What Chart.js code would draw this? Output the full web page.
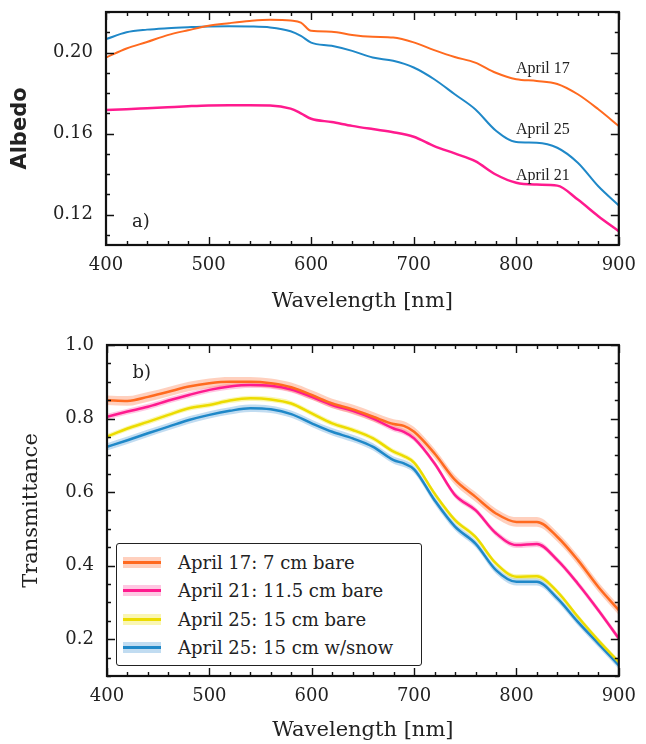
<!DOCTYPE html>
<html>
<head>
<meta charset="utf-8">
<script src="https://cdn.jsdelivr.net/npm/chart.js@4.4.1/dist/chart.umd.min.js"></script>
<style>
    html, body { margin: 0; padding: 0; background: #fff; }
    #wrap { position: relative; width: 646px; height: 744px; overflow: hidden; }
    #albedo-box { position: absolute; left: 0; top: 0; width: 646px; height: 320px; }
    #trans-box { position: absolute; left: 0; top: 320px; width: 646px; height: 424px; }
    #legend {
        position: absolute; left: 116px; top: 543px; width: 306px; height: 123px;
        box-sizing: border-box; border: 1.5px solid #222; border-radius: 3px; background: #fff;
        padding: 4px 0 0 6px; font-family: 'DejaVu Serif', serif; font-size: 18px; color: #222;
    }
    .row { display: flex; align-items: center; height: 28.5px; }
    .swatch { position: relative; width: 38px; height: 11px; margin-right: 17px; }
    .swatch span { position: absolute; left: 0; right: 0; top: 4px; height: 3px; }
</style>
</head>
<body>
<div id="wrap">
    <div id="albedo-box"><canvas id="albedoChart" width="646" height="320"></canvas></div>
    <div id="trans-box"><canvas id="transChart" width="646" height="424"></canvas></div>
    <div id="legend"></div>
</div>
<script>
// wavelengths (nm)
const WL_A = [400, 420, 440, 460, 480, 500, 520, 540, 560, 580, 590, 600, 620, 640, 660, 680, 700, 720, 740, 760, 780, 800, 820, 840, 860, 880, 900];
const WL_B = [400, 420, 440, 460, 480, 500, 520, 540, 560, 580, 600, 620, 640, 660, 680, 690, 700, 720, 740, 760, 780, 800, 820, 840, 860, 880, 900];

// panel a) albedo
const ALBEDO_APR17 = [0.1975, 0.2020, 0.2052, 0.2086, 0.2110, 0.2132, 0.2145, 0.2156, 0.2162, 0.2158, 0.2148, 0.2107, 0.2103, 0.2087, 0.2078, 0.2074, 0.2050, 0.2012, 0.1978, 0.1950, 0.1900, 0.1868, 0.1860, 0.1845, 0.1794, 0.1720, 0.1637];
const ALBEDO_APR25 = [0.2066, 0.2100, 0.2113, 0.2120, 0.2125, 0.2129, 0.2130, 0.2129, 0.2124, 0.2105, 0.2082, 0.2049, 0.2033, 0.2008, 0.1975, 0.1959, 0.1926, 0.1868, 0.1794, 0.1720, 0.1615, 0.1558, 0.1555, 0.1530, 0.1456, 0.1340, 0.1245];
const ALBEDO_APR21 = [0.1716, 0.1720, 0.1725, 0.1730, 0.1735, 0.1739, 0.1740, 0.1740, 0.1739, 0.1723, 0.1700, 0.1673, 0.1657, 0.1638, 0.1622, 0.1607, 0.1584, 0.1538, 0.1502, 0.1464, 0.1398, 0.1357, 0.1348, 0.1343, 0.1274, 0.1192, 0.1118];

// panel b) transmittance
const TRANS_APR17 = [0.850, 0.848, 0.859, 0.873, 0.887, 0.896, 0.900, 0.900, 0.896, 0.885, 0.864, 0.841, 0.825, 0.805, 0.785, 0.780, 0.764, 0.705, 0.633, 0.587, 0.542, 0.519, 0.519, 0.478, 0.415, 0.342, 0.279];
const TRANS_APR21 = [0.805, 0.819, 0.832, 0.849, 0.864, 0.878, 0.887, 0.891, 0.889, 0.879, 0.859, 0.837, 0.821, 0.800, 0.773, 0.764, 0.746, 0.678, 0.592, 0.551, 0.488, 0.456, 0.459, 0.415, 0.351, 0.279, 0.202];
const TRANS_APR25 = [0.751, 0.773, 0.791, 0.810, 0.828, 0.837, 0.849, 0.855, 0.852, 0.841, 0.814, 0.787, 0.769, 0.746, 0.710, 0.698, 0.680, 0.596, 0.524, 0.478, 0.406, 0.370, 0.371, 0.329, 0.261, 0.197, 0.138];
const TRANS_APR25_SNOW = [0.723, 0.741, 0.760, 0.778, 0.796, 0.810, 0.821, 0.828, 0.825, 0.812, 0.787, 0.764, 0.746, 0.723, 0.687, 0.678, 0.662, 0.578, 0.506, 0.460, 0.388, 0.356, 0.356, 0.311, 0.247, 0.188, 0.129];
// half-width of the shaded bands
const SPREAD = [0.013, 0.008, 0.007, 0.010];

const WL_TICKS = [400, 500, 600, 700, 800, 900];
const ALBEDO_TICKS = [0.12, 0.16, 0.20];
const TRANS_TICKS = [0.2, 0.4, 0.6, 0.8, 1.0];

const TRANS_LABELS = ['April 17: 7 cm bare', 'April 21: 11.5 cm bare', 'April 25: 15 cm bare', 'April 25: 15 cm w/snow'];

const ORANGE = '#ff6a1f', MAGENTA = '#ff1a8e', YELLOW = '#ecdc00', BLUE = '#1f88c8';
const BANDS = ['rgba(255,120,70,0.35)', 'rgba(255,70,160,0.3)', 'rgba(240,225,0,0.3)', 'rgba(50,140,210,0.3)'];

Chart.defaults.font.family = "'DejaVu Serif', serif";
Chart.defaults.color = '#222';

function points(xs, ys) {
    return xs.map((x, i) => ({ x: x, y: ys[i] }));
}

function line(label, xs, ys, color, width) {
    return {
        label: label, data: points(xs, ys), borderColor: color, borderWidth: width,
        pointRadius: 0, fill: false, cubicInterpolationMode: 'monotone', order: 1
    };
}

function band(label, xs, ys, spread, color, width, fillColor) {
    return [
        { label: label + ' low', data: points(xs, ys.map(v => v - spread)), borderWidth: 0, pointRadius: 0,
          fill: false, cubicInterpolationMode: 'monotone', order: 5 },
        { label: label + ' high', data: points(xs, ys.map(v => v + spread)), borderWidth: 0, pointRadius: 0,
          fill: '-1', backgroundColor: fillColor, cubicInterpolationMode: 'monotone', order: 5 },
        line(label, xs, ys, color, width)
    ];
}

// inward ticks on all four sides + black frame + text notes
const frameTicks = {
    id: 'frameTicks',
    afterDatasetsDraw(chart, args, opts) {
        const { ctx, chartArea: a, scales: { x, y } } = chart;
        ctx.save();
        ctx.strokeStyle = '#111';
        ctx.lineWidth = 1.4;
        ctx.beginPath();
        const lo = Math.ceil(x.min / opts.xMinor - 1e-6), hi = Math.floor(x.max / opts.xMinor + 1e-6);
        for (let i = lo; i <= hi; i++) {
            const v = i * opts.xMinor;
            const len = Math.abs(v / opts.xMajor - Math.round(v / opts.xMajor)) < 1e-6 ? 8 : 4;
            const px = Math.round(x.getPixelForValue(v)) + 0.5;
            ctx.moveTo(px, a.bottom); ctx.lineTo(px, a.bottom - len);
            ctx.moveTo(px, a.top); ctx.lineTo(px, a.top + len);
        }
        const ylo = Math.ceil(y.min / opts.yMinor - 1e-6), yhi = Math.floor(y.max / opts.yMinor + 1e-6);
        for (let i = ylo; i <= yhi; i++) {
            const v = i * opts.yMinor;
            const len = Math.abs(v / opts.yMajor - Math.round(v / opts.yMajor)) < 1e-6 ? 8 : 4;
            const py = Math.round(y.getPixelForValue(v)) + 0.5;
            ctx.moveTo(a.left, py); ctx.lineTo(a.left + len, py);
            ctx.moveTo(a.right, py); ctx.lineTo(a.right - len, py);
        }
        ctx.stroke();
        ctx.lineWidth = 2.2;
        ctx.strokeRect(a.left, a.top, a.right - a.left, a.bottom - a.top);

        ctx.fillStyle = '#222';
        ctx.textAlign = 'center';
        ctx.textBaseline = 'middle';
        (opts.notes || []).forEach(n => {
            ctx.font = n.font;
            ctx.fillText(n.text, x.getPixelForValue(n.x), y.getPixelForValue(n.y));
        });
        ctx.restore();
    }
};

function xScale(titlePad, height) {
    return {
        type: 'linear', min: 400, max: 900,
        afterBuildTicks: s => { s.ticks = WL_TICKS.map(v => ({ value: v })); },
        afterFit: s => { s.height = height; },
        grid: { display: false, drawTicks: false }, border: { display: false },
        ticks: { padding: 10, font: { size: 18 }, callback: v => String(v) },
        title: { display: true, text: 'Wavelength [nm]', font: { size: 21 }, padding: { top: 0, bottom: titlePad } }
    };
}

function init() {
    new Chart(document.getElementById('albedoChart'), {
        type: 'line',
        data: {
            datasets: [
                line('April 17', WL_A, ALBEDO_APR17, ORANGE, 2),
                line('April 25', WL_A, ALBEDO_APR25, BLUE, 2),
                line('April 21', WL_A, ALBEDO_APR21, MAGENTA, 2.5)
            ]
        },
        options: {
            responsive: false, animation: false,
            layout: { padding: { left: 0, right: 19, top: 12, bottom: 0 } },
            scales: {
                x: xScale(6, 75),
                y: {
                    min: 0.105, max: 0.22,
                    afterBuildTicks: s => { s.ticks = ALBEDO_TICKS.map(v => ({ value: v })); },
                    afterFit: s => { s.width = 106; s.paddingTop = 0; s.paddingBottom = 0; },
                    grid: { display: false, drawTicks: false }, border: { display: false },
                    ticks: { padding: 13, font: { size: 18 }, callback: v => v.toFixed(2) },
                    title: { display: true, text: 'Albedo', font: { family: "'DejaVu Sans', sans-serif", size: 21, weight: 'bold' },
                             padding: { top: 8, bottom: 0 } }
                }
            },
            plugins: {
                legend: { display: false }, tooltip: { enabled: false },
                frameTicks: {
                    xMinor: 20, xMajor: 100, yMinor: 0.01, yMajor: 0.04,
                    notes: [
                        { text: 'April 17', x: 826, y: 0.1921, font: "16px 'Liberation Serif', serif" },
                        { text: 'April 25', x: 826, y: 0.1620, font: "16px 'Liberation Serif', serif" },
                        { text: 'April 21', x: 826, y: 0.1393, font: "16px 'Liberation Serif', serif" },
                        { text: 'a)', x: 434, y: 0.1160, font: "18px 'DejaVu Serif', serif" }
                    ]
                }
            }
        },
        plugins: [frameTicks]
    });

    const transSeries = [TRANS_APR17, TRANS_APR21, TRANS_APR25, TRANS_APR25_SNOW];
    const colors = [ORANGE, MAGENTA, YELLOW, BLUE];
    let datasets = [];
    transSeries.forEach((ys, i) => {
        datasets = datasets.concat(band(TRANS_LABELS[i], WL_B, ys, SPREAD[i], colors[i], 2.5, BANDS[i]));
    });

    new Chart(document.getElementById('transChart'), {
        type: 'line',
        data: { datasets: datasets },
        options: {
            responsive: false, animation: false,
            layout: { padding: { left: 0, right: 20, top: 25, bottom: 0 } },
            scales: {
                x: xScale(1, 68),
                y: {
                    min: 0.1, max: 1.0,
                    afterBuildTicks: s => { s.ticks = TRANS_TICKS.map(v => ({ value: v })); },
                    afterFit: s => { s.width = 107; s.paddingTop = 0; s.paddingBottom = 0; },
                    grid: { display: false, drawTicks: false }, border: { display: false },
                    ticks: { padding: 13, font: { size: 18 }, callback: v => v.toFixed(1) },
                    title: { display: true, text: 'Transmittance', font: { size: 21 }, padding: { top: 19, bottom: 0 } }
                }
            },
            plugins: {
                legend: { display: false }, tooltip: { enabled: false },
                frameTicks: {
                    xMinor: 20, xMajor: 100, yMinor: 0.05, yMajor: 0.2,
                    notes: [{ text: 'b)', x: 434, y: 0.924, font: "18px 'DejaVu Serif', serif" }]
                }
            }
        },
        plugins: [frameTicks]
    });

    // legend inside panel b
    const legend = document.getElementById('legend');
    TRANS_LABELS.forEach((label, i) => {
        const row = document.createElement('div');
        row.className = 'row';
        row.innerHTML = '<div class="swatch" style="background:' + BANDS[i] + '"><span style="background:' + colors[i] +
            '"></span></div><div>' + label + '</div>';
        legend.appendChild(row);
    });
}

window.addEventListener('DOMContentLoaded', init);
</script>
</body>
</html>
